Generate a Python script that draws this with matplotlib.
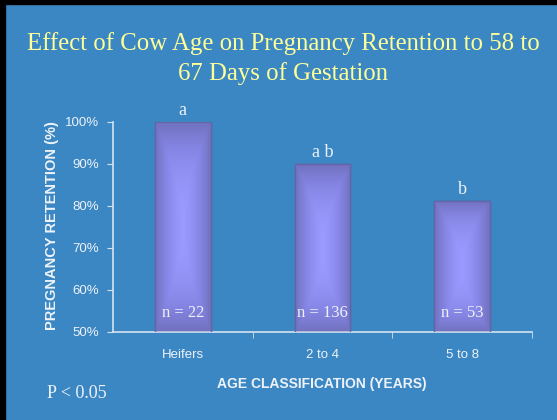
import matplotlib.pyplot as plt
import numpy as np
from matplotlib.patches import Rectangle
from matplotlib.colors import LinearSegmentedColormap

categories = ['Heifers', '2 to 4', '5 to 8']
retention = [100, 90, 81.3]
letters = ['a', 'a b', 'b']
n_labels = ['n = 22', 'n = 136', 'n = 53']
yticks = [50, 60, 70, 80, 90, 100]

bg = '#3a87c3'
axcol = '#d5e3f0'
txtcol = '#eef2f8'

fig = plt.figure(figsize=(5.57, 4.2), dpi=100, facecolor=bg)
ax = fig.add_axes([113/557, 1-332/420, (532-113)/557, 210/420])
ax.set_facecolor(bg)

x = np.arange(len(categories))
bars = ax.bar(x, [r - 50 for r in retention], bottom=50, width=0.4,
              color='#7a7acb', edgecolor='#6464a8', linewidth=1, zorder=2)

# path-like gradient inside each bar
cmap = LinearSegmentedColormap.from_list('g', ['#9a9aff', '#8686e6', '#7272c0'])
u = np.linspace(-1, 1, 80)
U, V = np.meshgrid(u, u)
grad = np.maximum(np.abs(U) ** 1.3, np.abs(V) ** 2.2)
for b in bars:
    x0, y0 = b.get_x(), b.get_y()
    w, h = b.get_width(), b.get_height()
    im = ax.imshow(grad, cmap=cmap, extent=[x0, x0 + w, y0, y0 + h],
                   aspect='auto', zorder=2.5, interpolation='bilinear')
    im.set_clip_path(b)
    ax.add_patch(Rectangle((x0, y0), w, h, fill=False, edgecolor='#6464a8',
                           linewidth=1, zorder=3))

for xi, r, l, n in zip(x, retention, letters, n_labels):
    ax.annotate(l, (xi, r), xytext=(0, 2), textcoords='offset points',
                ha='center', va='bottom', family='Liberation Serif',
                fontsize=13, color=txtcol, annotation_clip=False)
    ax.text(xi, 54.6, n, ha='center', va='center', family='Liberation Serif',
            fontsize=12, color=txtcol, zorder=4)

ax.set_xlim(-0.5, 2.5)
ax.set_ylim(50, 100)
ax.set_yticks(yticks)
ax.set_yticklabels([f'{t}%' for t in yticks])
ax.set_xticks(x)
ax.set_xticklabels(categories)
ax.set_xticks([0.5, 1.5, 2.5], minor=True)
ax.tick_params(axis='x', which='major', length=0, pad=12)
ax.tick_params(axis='x', which='minor', length=4, direction='out', color=axcol)
ax.tick_params(axis='y', length=4, direction='out', color=axcol, pad=6)
for lab in ax.get_xticklabels() + ax.get_yticklabels():
    lab.set_family('Liberation Sans')
    lab.set_fontsize(9.5)
    lab.set_color(txtcol)

for s in ['top', 'right']:
    ax.spines[s].set_visible(False)
for s in ['left', 'bottom']:
    ax.spines[s].set_color(axcol)
    ax.spines[s].set_linewidth(1.2)

fig.text(52/557, 1-226/420, 'PREGNANCY RETENTION (%)', rotation=90,
         ha='center', va='center', family='Liberation Sans', weight='bold',
         fontsize=10.5, color=txtcol)
fig.text(322/557, 1-384/420, 'AGE CLASSIFICATION (YEARS)', ha='center',
         va='center', family='Liberation Sans', weight='bold', fontsize=10,
         color=txtcol)
fig.text(47/557, 1-394/420, 'P < 0.05', ha='left', va='center',
         family='Liberation Serif', fontsize=13, color=txtcol)

fig.text(283/557, 1-44/420, 'Effect of Cow Age on Pregnancy Retention to 58 to',
         ha='center', va='center', family='Liberation Serif', fontsize=17.8,
         color='#ffff99')
fig.text(283/557, 1-74/420, '67 Days of Gestation', ha='center', va='center',
         family='Liberation Serif', fontsize=17.8, color='#ffff99')

# black frame on top and left edge
fig.patches.append(Rectangle((0, 0), 5/557, 1, transform=fig.transFigure,
                             color='black', zorder=10))
fig.patches.append(Rectangle((0, 1-4/420), 1, 4/420, transform=fig.transFigure,
                             color='black', zorder=10))

fig.savefig('out.png', dpi=100, facecolor=bg)
